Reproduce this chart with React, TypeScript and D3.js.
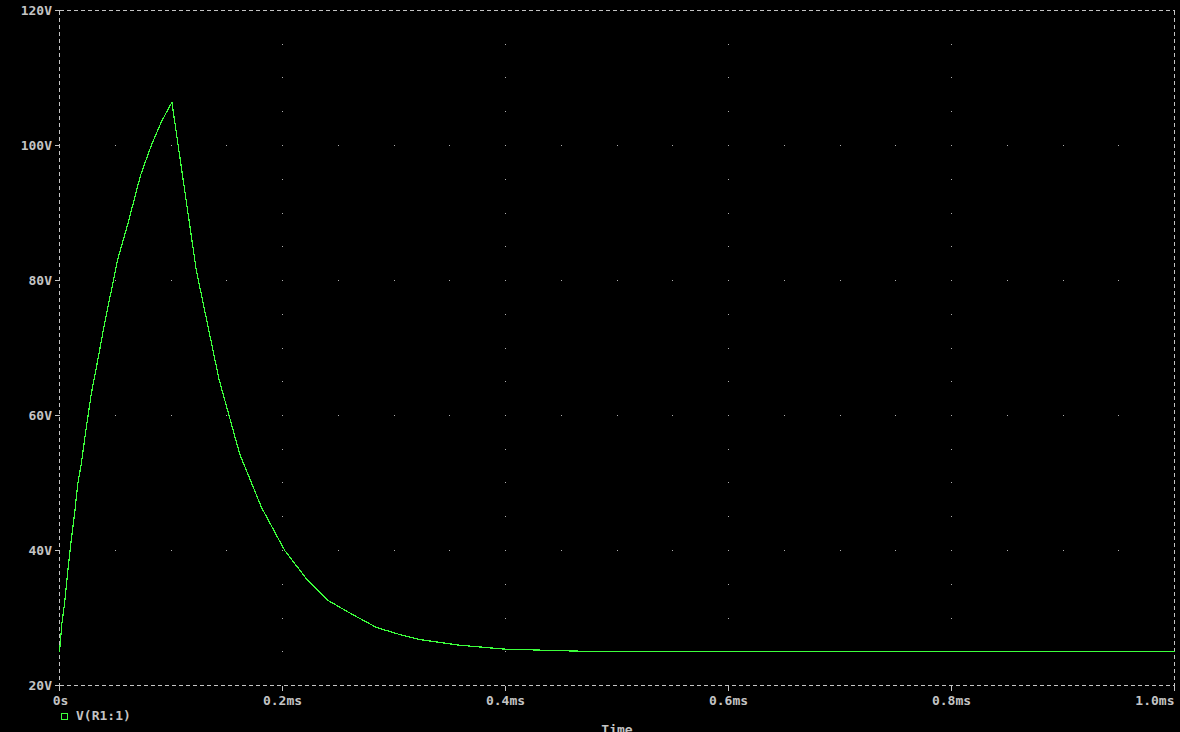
import React, { useEffect } from "react";
import * as d3 from "d3";

// time in ms, voltage in V
const timeMs = [0, 0.0021, 0.0045, 0.0075, 0.0105, 0.0135, 0.0164, 0.0195, 0.0224, 0.0254, 0.0285, 0.0326, 0.0404, 0.0523, 0.0613, 0.0727, 0.0823, 0.0913, 0.1008, 0.1227, 0.143, 0.1616, 0.1811, 0.202, 0.2215, 0.2408, 0.2619, 0.2843, 0.3082, 0.3232, 0.3321, 0.3575, 0.3979, 0.4524, 0.4928, 0.6, 0.8, 1.0];
const voltage = [24.9, 29.1, 32.1, 37.0, 41.5, 45.4, 49.9, 52.8, 56.3, 59.75, 63.2, 66.7, 73.6, 83.2, 88.4, 95.6, 100.0, 103.5, 106.4, 81.5, 65.4, 54.3, 46.4, 40.0, 35.8, 32.6, 30.6, 28.6, 27.4, 26.8, 26.6, 26.0, 25.4, 25.14, 25.0, 25.0, 25.0, 25.0];

const yTicks = [20, 40, 60, 80, 100, 120];
const yTickLabels = ["20V", "40V", "60V", "80V", "100V", "120V"];
const xTicks = [0, 0.2, 0.4, 0.6, 0.8, 1.0];
const xTickLabels = ["0s", "0.2ms", "0.4ms", "0.6ms", "0.8ms", "1.0ms"];
const legendLabel = "V(R1:1)";
const xAxisTitle = "Time";

const W = 1180;
const H = 732;
const AXIS = "#c4c4c4";
const TEXT = "#c4c4c4";
const GREEN = "#3cff3c";
const FONT = "'DejaVu Sans Mono', monospace";

export default function App() {
  useEffect(() => {
    document.body.style.margin = "0";
    document.body.style.background = "#000";
  }, []);

  const x = d3.scaleLinear().domain([0, 1.0]).range([59.5, 1174.5]);
  const y = d3.scaleLinear().domain([20, 120]).range([685.5, 10.5]);

  const pts: [number, number][] = timeMs.map((t, i) => [t, voltage[i]]);
  const line = d3
    .line<[number, number]>()
    .x((d) => x(d[0]))
    .y((d) => y(d[1]));

  // grid dots
  const dots: { cx: number; cy: number }[] = [];
  const innerY = yTicks.filter((v) => v > 20 && v < 120);
  const innerX = xTicks.filter((v) => v > 0 && v < 1.0);
  const minorX = d3.range(1, 20).map((i) => i * 0.05);
  const minorY = d3.range(1, 20).map((i) => 20 + i * 5);
  innerY.forEach((v) => minorX.forEach((t) => dots.push({ cx: x(t), cy: y(v) })));
  innerX.forEach((t) => minorY.forEach((v) => dots.push({ cx: x(t), cy: y(v) })));

  const x0 = x(0), x1 = x(1.0), y0 = y(20), y1 = y(120);
  const lastIdx = xTicks.length - 1;

  return (
    <div style={{ position: "fixed", left: 0, top: 0, width: W, height: H, background: "#000" }}>
      <svg width={W} height={H} style={{ display: "block", background: "#000" }}>
        <rect x={0} y={0} width={W} height={H} fill="#000" />
        {dots.map((d, i) => (
          <rect key={i} x={Math.round(d.cx - 0.5)} y={Math.round(d.cy - 0.5)} width={1} height={1} fill="#b0b0b0" />
        ))}
        {/* frame */}
        <g stroke={AXIS} strokeWidth={1} strokeDasharray="4,3" shapeRendering="crispEdges" fill="none">
          <line x1={x0} y1={y1} x2={x1} y2={y1} />
          <line x1={x0} y1={y0} x2={x1} y2={y0} />
          <line x1={x0} y1={y1} x2={x0} y2={y0} />
          <line x1={x1} y1={y1} x2={x1} y2={y0} />
        </g>
        {/* ticks */}
        <g stroke={AXIS} strokeWidth={1} shapeRendering="crispEdges">
          {yTicks.map((v) => (
            <line key={"yt" + v} x1={x0 - 5} x2={x0} y1={y(v)} y2={y(v)} />
          ))}
          {xTicks.map((t) => (
            <line key={"xt" + t} x1={x(t)} x2={x(t)} y1={y0} y2={y0 + 5} />
          ))}
        </g>
        <g fill={TEXT} fontFamily={FONT} fontWeight="bold" fontSize={13}>
          {yTicks.map((v, i) => (
            <text key={"yl" + v} x={52} y={y(v)} dy="0.35em" textAnchor="end">
              {yTickLabels[i]}
            </text>
          ))}
          {xTicks.map((t, i) => (
            <text
              key={"xl" + t}
              x={i === lastIdx ? x(t) : x(t) + (i === 0 ? 1 : 0)}
              y={705}
              textAnchor={i === lastIdx ? "end" : "middle"}
            >
              {xTickLabels[i]}
            </text>
          ))}
          <text x={76} y={720}>{legendLabel}</text>
          <text x={(x0 + x1) / 2} y={734} textAnchor="middle">{xAxisTitle}</text>
        </g>
        <rect x={61.5} y={713.5} width={6} height={6} fill="none" stroke={GREEN} strokeWidth={1} shapeRendering="crispEdges" />
        <path d={line(pts) || ""} fill="none" stroke={GREEN} strokeWidth={1.2} shapeRendering="crispEdges" />
      </svg>
    </div>
  );
}
